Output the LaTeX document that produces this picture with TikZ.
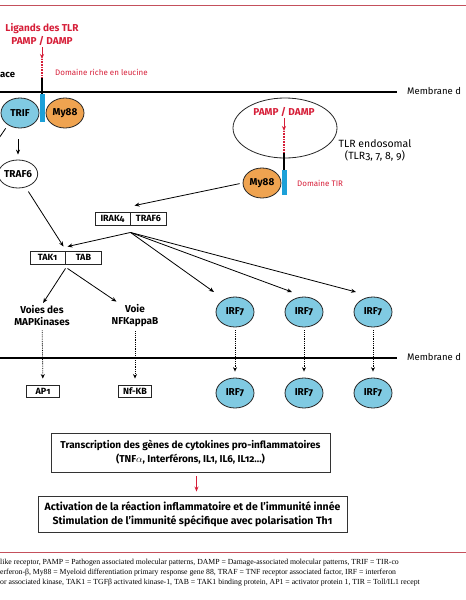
\documentclass[tikz,border=0pt]{standalone}
\usepackage{fontspec}
\setmainfont{Fira Sans}[Numbers=OldStyle]
\newfontfamily\notefont{Liberation Serif}
\usetikzlibrary{calc,shapes.multipart,shapes.geometric,arrows.meta,positioning}
\definecolor{tlrred}{RGB}{214,30,56}
\definecolor{rulered}{RGB}{196,80,92}
\definecolor{protblue}{RGB}{128,202,226}
\definecolor{protorange}{RGB}{239,163,80}
\definecolor{tircyan}{RGB}{28,160,216}
\tikzset{prot/.style={ellipse, draw=black!85, line width=0.8pt, minimum width=38pt, minimum height=30pt, inner sep=0pt, font=\bfseries\fontsize{10}{11}\selectfont},
  pair/.style={rectangle split, rectangle split parts=2, rectangle split horizontal, draw=black!85, line width=0.9pt, text width=29pt, align=center, inner xsep=3pt, inner ysep=1.5pt, minimum height=13pt, font=\bfseries\fontsize{9}{10}\selectfont},
  gene/.style={draw=black!85, line width=0.9pt, minimum width=33pt, minimum height=12pt, inner sep=1pt, font=\bfseries\fontsize{9}{10}\selectfont},
  box/.style={draw=black!80, line width=0.9pt, align=center, inner sep=2pt, font=\bfseries\fontsize{10}{14}\selectfont},
  lab/.style={align=center, inner sep=1pt, font=\bfseries\fontsize{10}{12}\selectfont},
  ligand/.style={align=center, inner sep=1pt, text=tlrred, font=\bfseries\fontsize{10}{13}\selectfont},
  dom/.style={inner sep=0pt, text=tlrred, font=\fontsize{8}{9}\selectfont},
  memtext/.style={inner sep=0pt, font=\fontsize{9.5}{11}\selectfont},
  note/.style={inner sep=0pt, font=\notefont\fontsize{7.75}{9}\selectfont},
  tirdom/.style={fill=tircyan, draw=none, minimum width=5pt, inner sep=0pt},
  membrane/.style={line width=1.3pt},
  stem/.style={line width=1.5pt},
  leu/.style={tlrred, line width=1.6pt, dash pattern=on 0.8pt off 0.8pt},
  arr/.style={-{Stealth[length=5pt,width=4pt]}, line width=0.8pt},
  dots/.style={-{Stealth[length=4.5pt,width=4pt]}, line width=0.8pt, densely dotted, shorten <=3pt, shorten >=6pt},
  redarr/.style={tlrred, -{Stealth[length=5pt,width=4pt]}, line width=0.9pt}}

\begin{document}
\begin{tikzpicture}[x=1pt,y=-1pt]
\useasboundingbox (0,0) rectangle (466,600);
% red rules and membranes
\draw[rulered, line width=0.8pt] (0,5) -- (466,5);
\draw[rulered, line width=0.8pt] (0,552) -- (466,552);
\draw[membrane] (0,92) -- (397,92);
\draw[membrane] (0,358) -- (397,358);
\node[memtext, anchor=west] (mtop) at (407,91) {Membrane d};
\node[memtext, anchor=west] (mbot) at (407,357) {Membrane d};
\node[memtext, anchor=west, font=\bfseries\fontsize{9.5}{11}\selectfont] (surf) at (0,75) {ace};

% surface TLR
\node[ligand] (lig) at (42,35) {Ligands des TLR\\PAMP / DAMP};
\coordinate (s1) at (42,59);
\coordinate (s2) at (42,78);
\node[tirdom, minimum height=28pt] (tir1) at (42.5,108) {};
\draw[redarr] (lig) -- (s1);
\draw[leu] (s1) -- (s2);
\draw[stem] (s2) -- (tir1.north -| s2);
\node[dom, anchor=west] (leulab) at (55,72) {Domaine riche en leucine};
\node[prot, fill=protblue] (trif) at (20,113) {TRIF};
\node[prot, fill=protorange] (myd) at (65,113) {My88};
\node[prot, fill=white, minimum width=37pt, minimum height=28pt] (traf) at (18,174) {TRAF6};
\coordinate (offl) at (-3,141);
\draw[line width=0.8pt, shorten <=4pt] (trif.225) -- (offl);
\draw[arr, shorten <=11pt, shorten >=5pt] (trif.south -| traf) -- (traf);

% endosomal TLR
\node[ellipse, draw=black!85, line width=0.8pt, minimum width=104pt, minimum height=60pt] (endo) at (285,128) {};
\node[ligand] (pampe) at (284,112) {PAMP / DAMP};
\coordinate (e1) at (284,131);
\coordinate (e2) at (284,153);
\node[tirdom, minimum height=25pt] (tir2) at (284.5,182.5) {};
\draw[redarr] (pampe) -- (e1);
\draw[leu] (e1) -- (e2);
\draw[stem] (e2) -- (tir2.north -| e2);
\node[dom, anchor=west] (tirlab) at (297,183) {Domaine TIR};
\node[memtext, align=center, font=\fontsize{10.5}{12}\selectfont] (endolab) at (375,150) {TLR endosomal\\(TLR3, 7, 8, 9)};
\node[prot, fill=protorange] (myde) at (262,183) {My88};

% kinases
\node[pair] (irak) at (130.5,218.5) {IRAK4\nodepart{two}TRAF6};
\node[pair] (tak) at (65.5,257.5) {TAK1\nodepart{two}TAB};
\draw[arr, shorten <=3pt] (myde.west) -- ($(irak.one split north)+(4,-6)$);
\draw[arr, shorten <=5pt] (traf.-60) -- ($(tak.one split north)+(-2,-4)$);
\draw[arr] ($(irak.one split south)+(0,7)$) -- ($(tak.one split north)+(2,-4)$);

% pathways
\node[lab] (mapk) at (42,316) {Voies des\\MAPKinases};
\node[lab] (nfkb) at (135,316) {Voie\\NFKappaB};
\draw[arr, shorten >=2pt] ($(tak.one split south)+(0,4)$) -- (mapk.north);
\draw[arr] ($(tak.one split south)+(2,4)$) -- ($(nfkb.north west)+(6,-2)$);
\node[gene] (ap1) at (43,391) {AP1};
\node[gene] (nfkbox) at (135,391) {Nf-KB};
\draw[dots] (mapk) -- (ap1);
\draw[dots] (nfkb) -- (nfkbox);

% IRF7
\foreach \i/\x/\dx in {a/235/-21,b/304/-12,c/373/-17} {
  \node[prot, fill=protblue] (irf\i) at (\x,312) {IRF7};
  \node[prot, fill=protblue] (nuc\i) at (\x,393) {IRF7};
  \draw[arr] ($(irak.one split south)+(0,7)$) -- ($(irf\i.center)+(\dx,-20)$);
  \draw[dots] (irf\i) -- (nuc\i);
}

% outcome
\node[box, minimum width=279pt, minimum height=39pt] (trans) at (190.5,452.5) {Transcription des gènes de cytokines pro-inflammatoires\\(TNF$\alpha$, Interférons, IL1, IL6, IL12...)};
\node[box, minimum width=309pt, minimum height=36pt, font=\bfseries\fontsize{10.5}{14}\selectfont] (act) at (192.5,514) {Activation de la réaction inflammatoire et de l’immunité innée\\Stimulation de l’immunité spécifique avec polarisation Th1};
\draw[redarr, shorten <=4pt, shorten >=4pt] ($(trans.south)+(6,0)$) -- ($(act.north)+(4,0)$);

% legend
\node[note, anchor=west] (n1) at (0,563) {like receptor, PAMP = Pathogen associated molecular patterns, DAMP = Damage-associated molecular patterns, TRIF = TIR-co};
\node[note, anchor=west] (n2) at (0,573) {erferon-β, My88 = Myeloid differentiation primary response gene 88, TRAF = TNF receptor associated factor, IRF = interferon};
\node[note, anchor=west] (n3) at (0,583) {or associated kinase, TAK1 = TGFβ activated kinase-1, TAB = TAK1 binding protein, AP1 = activator protein 1, TIR = Toll/IL1 recept};
\end{tikzpicture}
\end{document}
